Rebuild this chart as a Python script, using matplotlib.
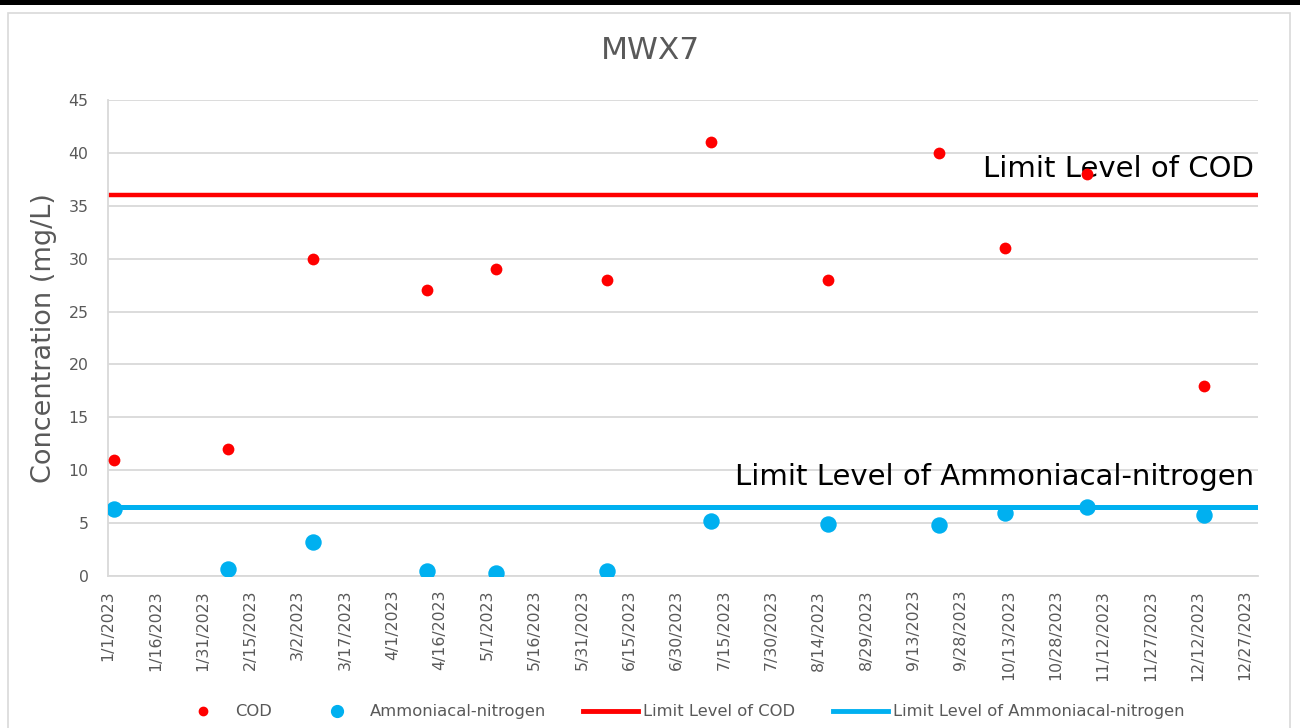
import datetime as dt

import matplotlib
matplotlib.use("Agg")
import matplotlib.pyplot as plt
from matplotlib.patches import Rectangle
from matplotlib.lines import Line2D

plt.rcParams["font.family"] = ["DejaVu Sans"]

# sample dates and measured values (mg/L)
dates = ["2023-01-03", "2023-02-08", "2023-03-07", "2023-04-12", "2023-05-04",
         "2023-06-08", "2023-07-11", "2023-08-17", "2023-09-21", "2023-10-12",
         "2023-11-07", "2023-12-14"]
cod = [11, 12, 30, 27, 29, 28, 41, 28, 40, 31, 38, 18]
ammonia = [6.3, 0.7, 3.2, 0.5, 0.3, 0.5, 5.2, 4.9, 4.8, 6.0, 6.5, 5.8]
cod_limit = 36
ammonia_limit = 6.5

x_start = dt.date(2023, 1, 1)
x_end = dt.date(2023, 12, 31)
tick_dates = [x_start + dt.timedelta(days=15 * i) for i in range(25)]
y_ticks = list(range(0, 50, 5))

GRAY = "#595959"
GRID = "#d9d9d9"
RED = "#ff0000"
BLUE = "#00b0f0"

x = [dt.date.fromisoformat(d) for d in dates]

fig = plt.figure(figsize=(13, 7.28), dpi=100)
ax = fig.add_axes([0.083, 0.2088, 0.8846, 0.6538])

# chart frame: black bar on top and thin gray border
fig.patches.append(Rectangle((0, 0.993), 1, 0.007, transform=fig.transFigure,
                             fc="black", ec="none", zorder=0))
fig.patches.append(Rectangle((0.0065, -0.01), 0.986, 0.992, transform=fig.transFigure,
                             fc="none", ec=GRID, lw=1.2, zorder=0))

ax.axhline(cod_limit, color=RED, lw=3.2, zorder=2)
ax.axhline(ammonia_limit, color=BLUE, lw=3.6, zorder=2)
ax.scatter(x, cod, s=72, color=RED, zorder=3, linewidths=0)
ax.scatter(x, ammonia, s=140, color=BLUE, zorder=3, linewidths=0)

ax.text(0.997, 38.5, "Limit Level of COD", transform=ax.get_yaxis_transform(),
        ha="right", va="center", fontsize=21, color="black", zorder=2.5)
ax.text(0.997, 9.4, "Limit Level of Ammoniacal-nitrogen",
        transform=ax.get_yaxis_transform(),
        ha="right", va="center", fontsize=21, color="black", zorder=2.5)

ax.set_xlim(x_start, x_end)
ax.set_ylim(0, 45)
ax.set_yticks(y_ticks)
ax.set_xticks(tick_dates)
ax.set_xticklabels([f"{d.month}/{d.day}/{d.year}" for d in tick_dates],
                   rotation=90, fontsize=11.3, color=GRAY)
ax.tick_params(axis="y", labelsize=11.3, labelcolor=GRAY, length=0, pad=14)
ax.tick_params(axis="x", length=0, pad=10)
ax.grid(axis="y", color=GRID, lw=1.3)
ax.set_axisbelow(True)
for side in ("top", "right"):
    ax.spines[side].set_visible(False)
for side in ("left", "bottom"):
    ax.spines[side].set_color(GRID)
    ax.spines[side].set_linewidth(1.3)

ax.set_ylabel("Concentration (mg/L)", fontsize=19.5, color=GRAY, labelpad=8)
fig.text(0.5, 0.93, "MWX7", ha="center", va="center", fontsize=22.5, color=GRAY)

handles = [
    Line2D([], [], ls="none", marker="o", ms=6, color=RED),
    Line2D([], [], ls="none", marker="o", ms=8.5, color=BLUE),
    Line2D([], [], color=RED, lw=3.5),
    Line2D([], [], color=BLUE, lw=3.5),
]
labels = ["COD", "Ammoniacal-nitrogen", "Limit Level of COD",
          "Limit Level of Ammoniacal-nitrogen"]
leg = fig.legend(handles, labels, loc="center", bbox_to_anchor=(0.523, 0.022),
                 ncol=4, frameon=False, fontsize=11.8, handlelength=3.35,
                 handletextpad=0.3, columnspacing=2.3)
for t in leg.get_texts():
    t.set_color(GRAY)

fig.savefig("out.png", dpi=100)
